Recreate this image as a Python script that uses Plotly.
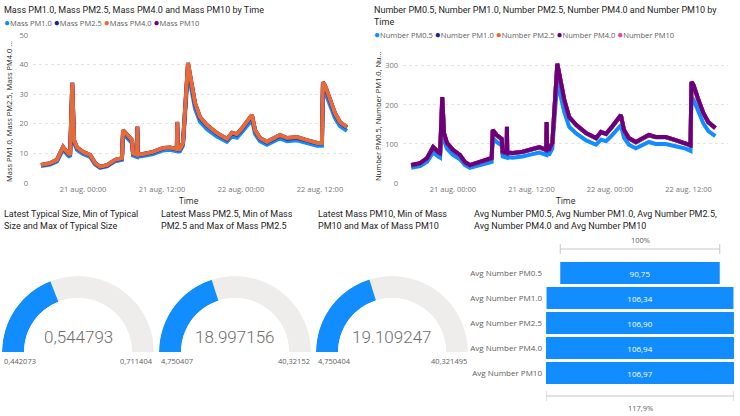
import plotly.graph_objects as go

W, H = 740, 416
def px(x): return x / W
def py(y): return 1 - y / H

# ---------------- data ----------------
time = [
    "2023-08-20 17:37", "2023-08-20 18:59", "2023-08-20 20:03", "2023-08-20 20:58", "2023-08-20 21:43",
    "2023-08-20 22:02", "2023-08-20 22:22", "2023-08-20 22:38", "2023-08-20 23:05", "2023-08-21 00:00",
    "2023-08-21 01:04", "2023-08-21 01:49", "2023-08-21 02:35", "2023-08-21 03:39", "2023-08-21 04:52",
    "2023-08-21 05:55", "2023-08-21 06:05", "2023-08-21 06:41", "2023-08-21 07:27", "2023-08-21 07:36",
    "2023-08-21 08:12", "2023-08-21 08:15", "2023-08-21 08:18", "2023-08-21 09:07", "2023-08-21 10:38",
    "2023-08-21 12:09", "2023-08-21 13:13", "2023-08-21 14:15", "2023-08-21 14:19", "2023-08-21 14:23",
    "2023-08-21 14:44", "2023-08-21 15:11", "2023-08-21 15:57", "2023-08-21 16:33", "2023-08-21 17:01",
    "2023-08-21 17:46", "2023-08-21 18:50", "2023-08-21 20:21", "2023-08-21 21:52", "2023-08-21 22:38",
    "2023-08-21 23:23", "2023-08-22 00:18", "2023-08-22 01:22", "2023-08-22 01:40", "2023-08-22 02:08",
    "2023-08-22 02:53", "2023-08-22 03:57", "2023-08-22 04:52", "2023-08-22 05:56", "2023-08-22 06:59",
    "2023-08-22 08:31", "2023-08-22 10:02", "2023-08-22 11:33", "2023-08-22 12:18", "2023-08-22 12:27",
    "2023-08-22 12:46", "2023-08-22 13:31", "2023-08-22 14:17", "2023-08-22 15:02", "2023-08-22 16:06",
]

mass_pm1_0 = [5.7, 6.2, 7.3, 11.3, 9.3, 8.8, 31.4, 13.5, 11.2, 9.8,
              8.8, 6.3, 5.1, 5.6, 7.3, 7.8, 16.6, 15.1, 13.5, 9.3,
              8.8, 17.7, 8.9, 9.1, 9.8, 11.0, 11.2, 10.7, 19.2, 10.7,
              10.7, 12.6, 37.7, 30.1, 25.1, 20.7, 18.2, 15.7, 13.9, 15.8,
              15.3, 17.6, 20.5, 21.4, 16.6, 14.1, 12.9, 13.9, 15.1, 14.1,
              14.4, 13.5, 12.6, 12.6, 31.6, 30.7, 26.0, 21.9, 19.2, 17.6]
mass_pm2_5 = [6.0, 6.6, 7.7, 12.0, 9.9, 9.4, 33.4, 14.3, 11.9, 10.4,
              9.4, 6.7, 5.4, 5.9, 7.7, 8.3, 17.7, 16.0, 14.3, 9.9,
              9.4, 18.8, 9.5, 9.7, 10.4, 11.7, 11.9, 11.4, 20.4, 11.4,
              11.4, 13.4, 40.0, 32.0, 26.7, 22.0, 19.4, 16.7, 14.7, 16.8,
              16.3, 18.7, 21.8, 22.7, 17.7, 15.0, 13.7, 14.7, 16.0, 15.0,
              15.3, 14.3, 13.4, 13.4, 33.6, 32.6, 27.7, 23.3, 20.4, 18.7]
mass_pm4_0 = [6.1, 6.7, 7.8, 12.2, 10.0, 9.5, 33.8, 14.5, 12.0, 10.5,
              9.5, 6.8, 5.5, 6.0, 7.8, 8.4, 17.9, 16.2, 14.5, 10.0,
              9.5, 19.0, 9.6, 9.8, 10.5, 11.8, 12.0, 11.5, 20.6, 11.5,
              11.5, 13.5, 40.5, 32.4, 27.0, 22.3, 19.6, 16.9, 14.9, 17.0,
              16.5, 18.9, 22.0, 23.0, 17.9, 15.2, 13.9, 14.9, 16.2, 15.2,
              15.5, 14.5, 13.5, 13.5, 34.0, 33.0, 28.0, 23.6, 20.6, 18.9]
mass_pm10 = [6.1, 6.7, 7.9, 12.2, 10.0, 9.5, 33.9, 14.5, 12.0, 10.5,
             9.5, 6.8, 5.5, 6.0, 7.8, 8.4, 17.9, 16.2, 14.5, 10.0,
             9.5, 19.1, 9.6, 9.8, 10.5, 11.8, 12.0, 11.5, 20.7, 11.5,
             11.5, 13.5, 40.6, 32.5, 27.0, 22.3, 19.6, 16.9, 14.9, 17.0,
             16.5, 18.9, 22.0, 23.0, 17.9, 15.2, 13.9, 14.9, 16.2, 15.2,
             15.5, 14.5, 13.5, 13.5, 34.1, 33.0, 28.0, 23.6, 20.6, 18.9]

num_pm0_5 = [39, 43, 54, 78, 68, 65, 187, 109, 88, 72,
             61, 46, 39, 43, 50, 54, 116, 105, 96, 68,
             65, 122, 66, 65, 68, 74, 78, 72, 133, 73,
             74, 88, 260, 209, 181, 144, 127, 109, 98, 111,
             107, 122, 142, 148, 116, 98, 89, 96, 105, 100,
             100, 94, 88, 82, 220, 213, 181, 152, 133, 120]
num_pm1_0 = [45, 50, 63, 91, 79, 76, 218, 127, 102, 84,
             71, 53, 45, 50, 58, 63, 135, 122, 112, 79,
             76, 143, 77, 76, 79, 86, 91, 84, 155, 85,
             86, 102, 304, 244, 211, 168, 148, 127, 114, 130,
             125, 143, 166, 173, 135, 114, 104, 112, 122, 117,
             117, 109, 102, 96, 257, 249, 211, 178, 155, 140]
num_pm2_5 = [46, 51, 64, 92, 80, 77, 219, 128, 103, 85,
             72, 54, 46, 51, 59, 64, 136, 123, 113, 80,
             77, 144, 78, 77, 80, 87, 92, 85, 156, 86,
             87, 103, 305, 245, 212, 169, 149, 128, 115, 131,
             126, 144, 167, 174, 136, 115, 105, 113, 123, 118,
             118, 110, 103, 97, 258, 250, 212, 179, 156, 141]
num_pm4_0 = [46, 51, 64, 92, 80, 77, 220, 128, 103, 85,
             72, 54, 46, 51, 59, 64, 136, 123, 113, 80,
             77, 144, 78, 77, 80, 87, 92, 85, 156, 86,
             87, 103, 306, 246, 213, 169, 149, 128, 115, 131,
             126, 144, 167, 174, 136, 115, 105, 113, 123, 118,
             118, 110, 103, 97, 259, 251, 213, 179, 156, 141]
num_pm10 = [46, 51, 64, 92, 80, 77, 220, 128, 103, 85,
            72, 54, 46, 51, 59, 64, 136, 123, 113, 80,
            77, 144, 78, 77, 80, 87, 92, 85, 156, 86,
            87, 103, 306, 246, 213, 169, 149, 128, 115, 131,
            126, 144, 167, 174, 136, 115, 105, 113, 123, 118,
            118, 110, 103, 97, 259, 251, 213, 179, 156, 141]

x_tickvals = ["2023-08-21 00:00", "2023-08-21 12:00", "2023-08-22 00:00", "2023-08-22 12:00"]
x_ticktext = ["21 aug. 00:00", "21 aug. 12:00", "22 aug. 00:00", "22 aug. 12:00"]

mass_names = ["Mass PM1.0", "Mass PM2.5", "Mass PM4.0", "Mass PM10"]
num_names = ["Number PM0.5", "Number PM1.0", "Number PM2.5", "Number PM4.0", "Number PM10"]

gauge_titles = ["Latest Typical Size, Min of Typical<br>Size and Max of Typical Size",
                "Latest Mass PM2.5, Min of Mass<br>PM2.5 and Max of Mass PM2.5",
                "Latest Mass PM10, Min of Mass<br>PM10 and Max of Mass PM10"]
gauge_latest = [0.544793, 18.997156, 19.109247]
gauge_min = [0.442073, 4.750407, 4.750404]
gauge_max = [0.711404, 40.32152, 40.321495]
gauge_value_text = ["0,544793", "18.997156", "19.109247"]
gauge_min_text = ["0,442073", "4,750407", "4,750404"]
gauge_max_text = ["0,711404", "40,32152", "40,321495"]

funnel_labels = ["Avg Number PM0.5", "Avg Number PM1.0", "Avg Number PM2.5",
                 "Avg Number PM4.0", "Avg Number PM10"]
funnel_values = [90.75, 106.34, 106.90, 106.94, 106.97]

# ---------------- styling ----------------
BLUE, NAVY, ORANGE, PURPLE, PINK = "#118DFF", "#12239E", "#E66C37", "#6B007B", "#E044A7"
TITLE_FONT = dict(family="Roboto", size=9, color="#252423")
TICK_FONT = dict(family="Open Sans", size=7.5, color="#777777")
GRID = "#E4E4E4"

fig = go.Figure()

# left line chart
mass_series = [mass_pm1_0, mass_pm2_5, mass_pm4_0, mass_pm10]
mass_colors = [BLUE, NAVY, ORANGE, PURPLE]
for i in [0, 1, 3, 2]:
    fig.add_trace(go.Scatter(x=time, y=mass_series[i], name=mass_names[i], mode="lines",
                             line=dict(color=mass_colors[i], width=4),
                             xaxis="x", yaxis="y", showlegend=False))

# right line chart
num_series = [num_pm0_5, num_pm1_0, num_pm2_5, num_pm4_0, num_pm10]
num_colors = [BLUE, NAVY, ORANGE, PURPLE, PINK]
for i in [0, 1, 2, 4, 3]:
    fig.add_trace(go.Scatter(x=time, y=num_series[i], name=num_names[i], mode="lines",
                             line=dict(color=num_colors[i], width=4),
                             xaxis="x2", yaxis="y2", showlegend=False))

# gauges (half donuts on polar subplots)
gauge_centers = [78, 235, 392]
R = 76
for k in range(3):
    sub = "polar" if k == 0 else f"polar{k+1}"
    frac = (gauge_latest[k] - gauge_min[k]) / (gauge_max[k] - gauge_min[k])
    fig.add_trace(go.Barpolar(r=[1], theta=[90], width=[180], subplot=sub,
                              marker=dict(color="#EEEDEC", line=dict(width=0)), showlegend=False))
    fig.add_trace(go.Barpolar(r=[1], theta=[frac * 90], width=[frac * 180], subplot=sub,
                              marker=dict(color=BLUE, line=dict(width=0)), showlegend=False))
    cx = gauge_centers[k]
    polar = dict(domain=dict(x=[px(cx - R), px(cx + R)], y=[py(352), py(352 - R)]),
                 sector=[0, 180], hole=0.71, bgcolor="rgba(0,0,0,0)",
                 radialaxis=dict(range=[0, 1], visible=False),
                 angularaxis=dict(visible=False, rotation=180, direction="clockwise",
                                  thetaunit="degrees"))
    fig.update_layout(**{sub: polar})

# funnel
fig.add_trace(go.Funnel(y=funnel_labels, x=funnel_values, xaxis="x3", yaxis="y3",
                        marker=dict(color=BLUE), connector=dict(visible=False),
                        texttemplate="%{x:.2f}", textposition="inside",
                        insidetextanchor="middle",
                        textfont=dict(family="Open Sans", size=8, color="white"),
                        showlegend=False))

half = max(funnel_values) / 2
fig.update_layout(
    template="none",
    width=W, height=H, margin=dict(l=0, r=0, t=0, b=0, autoexpand=False),
    paper_bgcolor="white", plot_bgcolor="white",
    separators=",.", showlegend=False, funnelgap=0.12,
    xaxis=dict(domain=[px(33), px(352)], anchor="y", type="date", automargin=False,
               range=["2023-08-20 16:24", "2023-08-22 16:52"],
               tickvals=x_tickvals, ticktext=x_ticktext, tickfont=TICK_FONT,
               showgrid=False, showline=False, zeroline=False, ticks=""),
    yaxis=dict(domain=[py(183), py(35)], anchor="x", range=[0, 50], dtick=10, automargin=False,
               tickfont=TICK_FONT, showgrid=True, gridcolor=GRID, griddash="dot", gridwidth=1,
               zeroline=False, showline=False, ticks="", ticklabelstandoff=4),
    xaxis2=dict(domain=[px(403), px(728)], anchor="y2", type="date", automargin=False,
                range=["2023-08-20 16:22", "2023-08-22 18:02"],
                tickvals=x_tickvals, ticktext=x_ticktext, tickfont=TICK_FONT,
                showgrid=False, showline=False, zeroline=False, ticks=""),
    yaxis2=dict(domain=[py(183), py(60)], anchor="x2", range=[0, 315], dtick=100, automargin=False,
                tickfont=TICK_FONT, showgrid=True, gridcolor=GRID, griddash="dot", gridwidth=1,
                zeroline=False, showline=False, ticks="", ticklabelstandoff=4),
    xaxis3=dict(domain=[px(546), px(734)], anchor="y3", range=[-half, half], visible=False,
                automargin=False),
    yaxis3=dict(domain=[py(385.5), py(260.5)], anchor="x3", type="category", automargin=False,
                autorange="reversed", showgrid=False, showline=False, zeroline=False, ticks="",
                ticklabelstandoff=3,
                tickfont=dict(family="Open Sans", size=8, color="#605E5C")),
)

ann = []
def text(x, y, s, font, xanchor="left", yanchor="middle", angle=0, xref="paper"):
    ann.append(dict(x=x, y=y, xref=xref, yref="paper", text=s, showarrow=False,
                    xanchor=xanchor, yanchor=yanchor, font=font, textangle=angle, align="left"))

# chart titles
text(px(2), py(10), "Mass PM1.0, Mass PM2.5, Mass PM4.0 and Mass PM10 by Time", TITLE_FONT)
text(px(372), py(16), "Number PM0.5, Number PM1.0, Number PM2.5, Number PM4.0 and Number PM10 by<br>Time",
     TITLE_FONT)
# legends
LEG_FONT = dict(family="Open Sans", size=7.5, color="#605E5C")
def legend_html(names, colors):
    return " ".join(f'<span style="color:{c};font-size:10px">●</span>{n}' for n, c in zip(names, colors))
text(px(2), py(22), legend_html(mass_names, mass_colors), LEG_FONT)
text(px(372), py(34), legend_html(num_names, num_colors), LEG_FONT)
# axis titles
AX_FONT = dict(family="Open Sans", size=7.5, color="#252423")
text(px(9), py(112), "Mass PM1.0, Mass PM2.5, Mass PM4.0 ...", AX_FONT, xanchor="center", angle=-90)
text(px(378), py(116), "Number PM0.5, Number PM1.0, Nu...", AX_FONT, xanchor="center", angle=-90)
XT_FONT = dict(family="Open Sans", size=8.5, color="#252423")
text(px(189), py(200), "Time", XT_FONT, xanchor="center")
text(px(566), py(200), "Time", XT_FONT, xanchor="center")

# gauge texts
SMALL = dict(family="Open Sans", size=7.5, color="#605E5C")
VAL_FONT = dict(family="Roboto", size=17, color="#6E6E6E", weight=300)
for k in range(3):
    x0 = 2 + 157 * k
    cx = gauge_centers[k]
    text(px(x0), py(220), gauge_titles[k], TITLE_FONT)
    text(px(cx), py(337), gauge_value_text[k], VAL_FONT, xanchor="center")
    text(px(cx - R), py(361), gauge_min_text[k], SMALL)
    text(px(cx + R + 1), py(361), gauge_max_text[k], SMALL, xanchor="right")

# funnel title and percentage brackets
text(px(472), py(220), "Avg Number PM0.5, Avg Number PM1.0, Avg Number PM2.5,<br>Avg Number PM4.0 and Avg Number PM10",
     TITLE_FONT)
first = funnel_values[0]
biggest = max(funnel_values)
text(0, py(240), "100%", SMALL, xanchor="center", xref="x3")
text(0, py(408), f"{biggest / first * 100:.1f}%".replace(".", ","), SMALL, xanchor="center", xref="x3")
fig.update_layout(annotations=ann)

BR = dict(color="#C8C6C4", width=1)
shapes = []
for v, yl in [(first, 249), (biggest, 396)]:
    shapes.append(dict(type="line", xref="x3", yref="paper", x0=-v / 2, x1=v / 2,
                       y0=py(yl), y1=py(yl), line=BR))
    for s in (-1, 1):
        shapes.append(dict(type="line", xref="x3", yref="paper", x0=s * v / 2, x1=s * v / 2,
                           y0=py(yl - 5), y1=py(yl + 5), line=BR))
fig.update_layout(shapes=shapes)

fig.write_html("out.html", config={"displayModeBar": False},
               post_script="document.body.style.margin='0';document.body.style.overflow='hidden';")
